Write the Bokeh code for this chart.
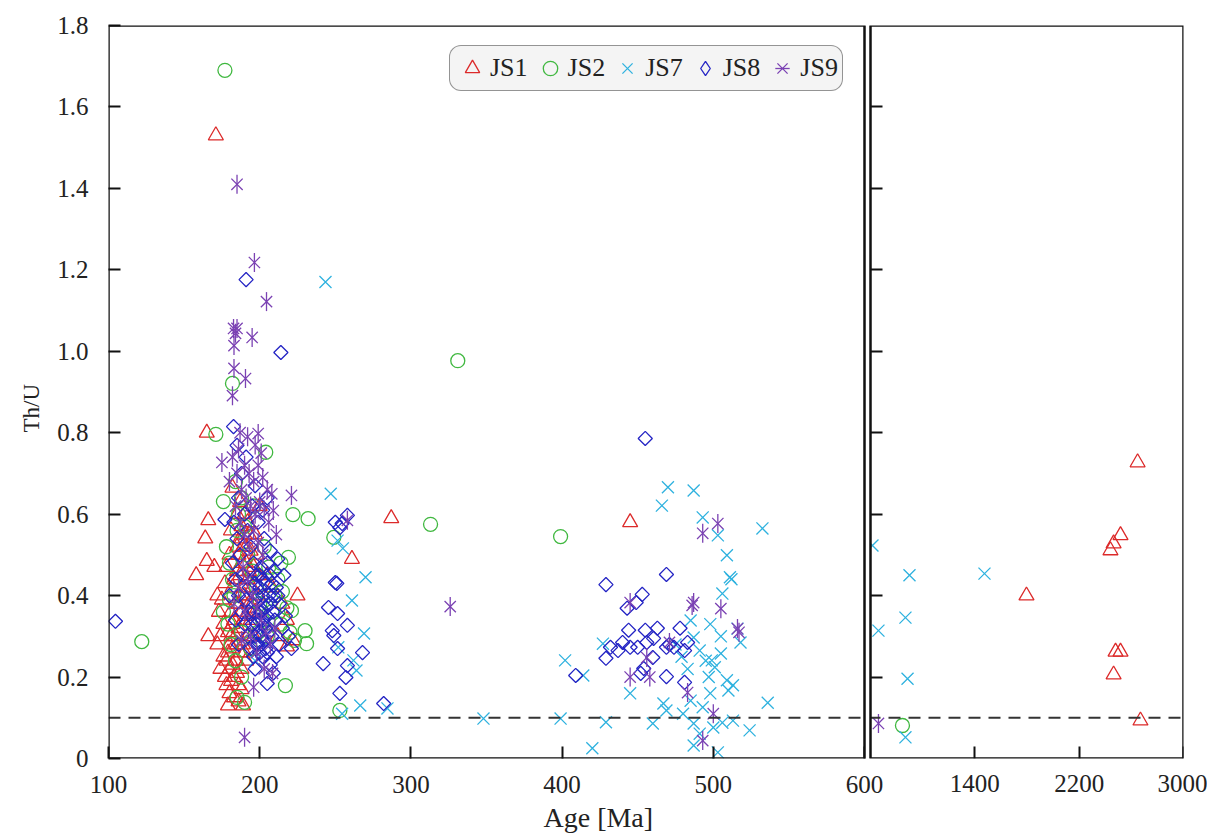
import math
from bokeh.plotting import figure
from bokeh.models import (Range1d, LinearAxis, FixedTicker, Span, BoxAnnotation, Title,
                          Legend, LegendItem, ColumnDataSource, PrintfTickFormatter)
from bokeh.embed import file_html
from bokeh.resources import INLINE

# ---------------- data (Age [Ma], Th/U) ----------------
JS1 = [(171, 1.53), (165, 0.80), (166, 0.585), (164, 0.54), (158, 0.45), (165, 0.485), (166, 0.30),
       (182, 0.665), (287, 0.59), (261, 0.49), (445, 0.58), (225, 0.40), (218, 0.275), (179, 0.13),
       (189, 0.13), (170, 0.47), (172, 0.40), (173, 0.36), (175, 0.39), (174, 0.30), (172, 0.28),
       (176, 0.25), (174, 0.22), (177, 0.20), (178, 0.18), (180, 0.22), (179, 0.26), (181, 0.30),
       (183, 0.34), (184, 0.38), (182, 0.42), (185, 0.46), (186, 0.50), (187, 0.54), (188, 0.57),
       (190, 0.60), (189, 0.52), (191, 0.48), (192, 0.44), (190, 0.40), (188, 0.36), (186, 0.32),
       (185, 0.28), (184, 0.24), (183, 0.20), (186, 0.18), (188, 0.22), (190, 0.26), (192, 0.30),
       (194, 0.34), (193, 0.38), (195, 0.42), (196, 0.47), (194, 0.51), (193, 0.55), (192, 0.58),
       (197, 0.55), (198, 0.50), (199, 0.45), (200, 0.62), (187, 0.63), (185, 0.60), (181, 0.56),
       (180, 0.50), (178, 0.47), (177, 0.43), (176, 0.33), (179, 0.31), (182, 0.27), (187, 0.45),
       (189, 0.42), (191, 0.35), (199, 0.40), (222, 0.29), (215, 0.38), (208, 0.42), (205, 0.45),
       (212, 0.30), (218, 0.34), (183, 0.15), (186, 0.14), (181, 0.19),
       (181, 0.36), (183, 0.44), (185, 0.52), (187, 0.40), (189, 0.34), (189, 0.28), (191, 0.24),
       (187, 0.26), (184, 0.30), (182, 0.33), (186, 0.38), (188, 0.48), (190, 0.55), (191, 0.52),
       (193, 0.46), (195, 0.38), (196, 0.30), (197, 0.36), (180, 0.28), (178, 0.24), (182, 0.23),
       (185, 0.21), (188, 0.17), (180, 0.16),
       (2517, 0.548), (2464, 0.528), (2440, 0.511), (1796, 0.40), (2479, 0.262), (2517, 0.262),
       (2464, 0.206), (2670, 0.093), (2648, 0.727)]

JS2 = [(177, 1.69), (331, 0.977), (122, 0.287), (313, 0.575), (399, 0.545), (171, 0.796), (204, 0.752),
       (222, 0.599), (232, 0.589), (219, 0.494), (221, 0.363), (230, 0.314), (231, 0.282), (217, 0.179),
       (249, 0.543), (253, 0.118), (182, 0.921), (176, 0.631), (185, 0.15), (190, 0.138),
       (178, 0.52), (180, 0.48), (182, 0.44), (176, 0.36), (179, 0.33), (183, 0.40), (185, 0.56),
       (186, 0.60), (188, 0.64), (184, 0.68), (190, 0.57), (192, 0.50), (195, 0.46), (198, 0.42),
       (200, 0.38), (202, 0.34), (205, 0.30), (208, 0.36), (210, 0.40), (212, 0.44), (214, 0.48),
       (203, 0.52), (196, 0.62), (181, 0.28), (184, 0.24), (188, 0.20), (194, 0.27), (199, 0.31),
       (215, 0.41), (218, 0.37), (220, 0.31), (223, 0.29), (214, 0.33), (206, 0.47), (188, 0.31),
       (180, 0.39), (845, 0.081)]

JS7 = [(243.5, 1.17), (247, 0.65), (251.5, 0.535), (255, 0.516), (270, 0.445), (261, 0.388), (269, 0.307),
       (252, 0.273), (262, 0.241), (264, 0.216), (266.5, 0.130), (254.5, 0.11), (284.5, 0.123), (197, 0.24),
       (348, 0.098), (399, 0.098), (429, 0.089), (402, 0.241), (414, 0.204), (427, 0.282), (420, 0.025),
       (445, 0.16), (470, 0.666), (487, 0.658), (466, 0.621), (493, 0.592), (503, 0.548), (532.5, 0.565),
       (509, 0.499), (511, 0.445), (512, 0.44), (506, 0.405), (516, 0.319), (518, 0.285), (485, 0.339),
       (487, 0.297), (491, 0.265), (499, 0.241), (501, 0.224), (505, 0.258), (509, 0.192), (510, 0.167),
       (536, 0.137), (467, 0.135), (469, 0.118), (460, 0.086), (480, 0.11), (487, 0.086), (491, 0.061),
       (500, 0.076), (506, 0.088), (513, 0.093), (524, 0.069), (487, 0.032), (503, 0.015), (485, 0.142),
       (493, 0.126), (497, 0.20), (495, 0.24), (479, 0.25), (483, 0.22), (475, 0.28), (498, 0.16),
       (513, 0.18), (505, 0.30), (498, 0.33),
       (615, 0.523), (899, 0.45), (1474, 0.454), (868, 0.346), (661, 0.314), (884, 0.196), (868, 0.052)]

JS8 = [(104.6, 0.337), (191, 1.176), (214, 0.997), (182.7, 0.815), (185, 0.769), (177, 0.587), (205, 0.184),
       (455, 0.786),
       (250, 0.58), (254.5, 0.577), (258, 0.597), (253, 0.567), (250, 0.432), (251, 0.43), (245.5, 0.371),
       (251.5, 0.356), (258, 0.327), (248, 0.314), (249, 0.302), (251.5, 0.27), (242, 0.233), (258, 0.228),
       (268, 0.26), (257, 0.199), (253, 0.16), (282, 0.135),
       (429, 0.427), (469, 0.452), (453, 0.403), (449, 0.383), (443, 0.369), (444, 0.315), (455, 0.315),
       (463, 0.32), (478, 0.32), (432, 0.273), (437, 0.265), (429, 0.246), (440, 0.285), (445, 0.273),
       (450, 0.273), (456, 0.285), (460, 0.248), (469, 0.273), (471, 0.28), (474, 0.273), (483, 0.285),
       (481, 0.265), (409, 0.204), (452, 0.209), (454, 0.221), (469, 0.201), (481, 0.187), (460.5, 0.295),
       (182, 0.48), (184, 0.44), (186, 0.40), (188, 0.36), (190, 0.33), (192, 0.30), (194, 0.27),
       (196, 0.25), (198, 0.28), (200, 0.31), (202, 0.34), (204, 0.37), (206, 0.40), (208, 0.43),
       (210, 0.46), (212, 0.49), (200, 0.42), (198, 0.45), (196, 0.48), (194, 0.52), (192, 0.56),
       (190, 0.60), (195, 0.62), (199, 0.58), (203, 0.54), (207, 0.51), (201, 0.47), (197, 0.39),
       (193, 0.42), (189, 0.45), (187, 0.50), (185, 0.54), (183, 0.58), (186, 0.64), (188, 0.70),
       (191, 0.74), (197, 0.67), (202, 0.61), (205, 0.64), (201, 0.36), (199, 0.34), (203, 0.29),
       (205, 0.26), (207, 0.23), (209, 0.21), (211, 0.25), (213, 0.28), (215, 0.32), (217, 0.35),
       (219, 0.30), (221, 0.27), (213, 0.38), (210, 0.34), (197, 0.22), (195, 0.33), (199, 0.40),
       (202, 0.44), (205, 0.48), (204, 0.32), (200, 0.26), (212, 0.40), (216, 0.45), (208, 0.30),
       (193, 0.36), (191, 0.39), (184, 0.34), (180, 0.40), (186, 0.28),
       (197, 0.30), (199, 0.28), (201, 0.30), (203, 0.33), (205, 0.35), (207, 0.38), (209, 0.36),
       (206, 0.31), (204, 0.27), (202, 0.25), (200, 0.36), (198, 0.33), (196, 0.36), (202, 0.40),
       (204, 0.43), (207, 0.45), (209, 0.40), (211, 0.42), (200, 0.45), (197, 0.43)]

JS9 = [(185, 1.41), (196.5, 1.218), (204.5, 1.122), (182.7, 1.056), (185, 1.056), (184, 1.044), (195, 1.034),
       (183, 1.014), (183, 0.958), (190.6, 0.933), (182, 0.891), (199, 0.798), (187, 0.80), (175, 0.727),
       (221, 0.646), (209, 0.609), (258, 0.585), (326, 0.373), (190, 0.052), (196, 0.175), (208.5, 0.209),
       (493, 0.553), (503, 0.577), (487, 0.383), (486, 0.376), (505, 0.368), (516, 0.319), (517, 0.31),
       (445, 0.383), (456, 0.248), (445, 0.20), (458, 0.20), (471, 0.285), (483, 0.162), (500, 0.11),
       (493, 0.044),
       (186, 0.76), (190, 0.72), (193, 0.70), (196, 0.68), (199, 0.72), (202, 0.69), (205, 0.66),
       (188, 0.66), (191, 0.64), (194, 0.62), (197, 0.60), (200, 0.63), (203, 0.61), (206, 0.58),
       (184, 0.62), (187, 0.58), (190, 0.55), (193, 0.52), (196, 0.56), (199, 0.53), (202, 0.50),
       (189, 0.47), (192, 0.44), (195, 0.40), (198, 0.37), (201, 0.34), (204, 0.31), (207, 0.28),
       (210, 0.32), (185, 0.70), (182, 0.74), (201, 0.75), (197, 0.77), (192, 0.79), (180, 0.68),
       (211, 0.55), (208, 0.65), (186, 0.42), (183, 0.38), (190, 0.36), (194, 0.30), (198, 0.26),
       (203, 0.22), (188, 0.29),
       (661, 0.086)]

SERIES = ["JS1", "JS2", "JS7", "JS8", "JS9"]
X_TICKS_LEFT = [100, 200, 300, 400, 500, 600]
X_TICKS_RIGHT = [1400, 2200, 3000]
Y_TICKS = [0, 0.2, 0.4, 0.6, 0.8, 1.0, 1.2, 1.4, 1.6, 1.8]
BREAK = 600
THRESHOLD = 0.1

# ---------------- layout ----------------
W, H = 1207, 839
FL, FR, FT, FB = 108, 1183, 25, 758      # frame edges (px)
GAP_L, GAP_R = 864, 870                   # break gap (px)
fw = FR - FL
xl_end = 100 + (BREAK - 100) * fw / (GAP_L - FL)
xr_start = 3000 - (3000 - BREAK) * fw / (FR - GAP_R)
gap_units = (GAP_R - GAP_L) * (BREAK - 100) / (GAP_L - FL)

FONT = "Liberation Serif"
TICK_FS = "25px"
TXT = "#222222"

p = figure(width=W, height=H, x_range=Range1d(100, xl_end), y_range=Range1d(0, 1.8),
           output_backend="svg", toolbar_location=None, x_axis_type=None, y_axis_type=None,
           min_border_left=FL, min_border_right=W - FR, min_border_top=FT, min_border_bottom=H - FB)
p.extra_x_ranges = {"right": Range1d(xr_start, 3000)}
p.outline_line_color = None
p.background_fill_color = "white"
p.border_fill_color = "white"


def style_axis(ax, ticks, show_labels=True, show_ticks=True):
    ax.ticker = FixedTicker(ticks=ticks)
    ax.major_tick_in = 12
    ax.major_tick_out = 0
    ax.minor_tick_line_color = None
    ax.major_tick_line_color = "#111111" if show_ticks else None
    ax.major_tick_line_width = 2
    ax.axis_line_color = None
    ax.major_label_text_font = FONT
    ax.major_label_text_font_size = TICK_FS
    ax.major_label_text_color = TXT if show_labels else None


# bottom axis for the left panel (nearest to the frame)
xb = LinearAxis()
style_axis(xb, X_TICKS_LEFT)
xb.major_label_standoff = 17
p.add_layout(xb, "below")

# labels of the right panel (outer axis, pulled up onto the same line)
xr = LinearAxis(x_range_name="right")
style_axis(xr, X_TICKS_RIGHT, show_ticks=False)
xr.major_label_standoff = -21
p.add_layout(xr, "below")

# inward tick marks of the right panel
xr_t = LinearAxis(x_range_name="right", fixed_location=0)
style_axis(xr_t, X_TICKS_RIGHT, show_labels=False)
p.add_layout(xr_t, "below")

yl = LinearAxis()
style_axis(yl, Y_TICKS)
yl.formatter = PrintfTickFormatter(format="%.1f")
yl.major_label_overrides = {0: "0"}
yl.major_label_standoff = 20
p.add_layout(yl, "left")

yr = LinearAxis(x_range_name="right", fixed_location=BREAK)
style_axis(yr, Y_TICKS[1:-1], show_labels=False)
p.add_layout(yr, "left")

# axis titles
p.add_layout(Title(text="Age [Ma]", align="left", offset=435, standoff=8, text_font=FONT,
                   text_font_size="28px", text_font_style="normal", text_color=TXT), "below")
p.add_layout(Title(text="Th/U", align="left", offset=326, standoff=21, text_font=FONT,
                   text_font_size="23px", text_font_style="normal", text_color=TXT), "left")

# ---------------- glyphs ----------------
STYLE = {
    "JS1": dict(marker="triangle", size=15, color="#dc2a2a"),
    "JS2": dict(marker="circle", size=14, color="#40b840"),
    "JS7": dict(marker="x", size=17, color="#2fb2df"),
    "JS8": dict(marker="square", size=10, color="#2424c4", angle=math.pi / 4),
    "JS9": dict(marker="x", size=16, color="#7b42b3"),
}
DATA = {"JS1": JS1, "JS2": JS2, "JS7": JS7, "JS8": JS8, "JS9": JS9}

legend_items = []
for name in SERIES:
    pts = DATA[name]
    st = STYLE[name]
    left = [(a, t) for a, t in pts if a <= BREAK]
    right = [(a, t) for a, t in pts if a > BREAK]
    src_l = ColumnDataSource(dict(age=[a for a, _ in left], thu=[t for _, t in left]))
    src_r = ColumnDataSource(dict(age=[a for a, _ in right], thu=[t for _, t in right]))
    rends = []
    for src, rng in ((src_l, "default"), (src_r, "right")):
        kw = dict(marker=st["marker"], size=st["size"], fill_color=None,
                  line_color=st["color"], line_width=1.3, source=src, x_range_name=rng)
        if "angle" in st:
            kw["angle"] = st["angle"]
        r = p.scatter("age", "thu", **kw)
        if rng == "default":
            rends.append(r)
        if name == "JS9":
            r2 = p.scatter("age", "thu", marker="dash", size=19, angle=math.pi / 2,
                           line_color=st["color"], line_width=1.3, source=src, x_range_name=rng)
            if rng == "default":
                rends.append(r2)
    if name == "JS8":
        # legend swatch: the legend draws markers unrotated, so use a (zero-size) diamond there
        rends = [p.scatter("age", "thu", source=src_l, marker="diamond", size=0, fill_color=None,
                           line_color=st["color"], line_width=1.3)]
    legend_items.append(LegendItem(label=name, renderers=rends))

# threshold line
p.add_layout(Span(location=THRESHOLD, dimension="width", line_color="#333333",
                  line_width=2, line_dash="12 8"))

# axis break gap and panel frames
p.add_layout(BoxAnnotation(left=BREAK, right=BREAK + gap_units, fill_color="white", fill_alpha=1,
                           line_color=None))
p.add_layout(BoxAnnotation(left=100, right=BREAK, bottom=0, top=1.8, fill_alpha=0,
                           line_color="#111111", line_alpha=1, line_width=2.5))
p.add_layout(BoxAnnotation(x_range_name="right", left=BREAK, right=3000, bottom=0, top=1.8,
                           fill_alpha=0, line_color="#111111", line_alpha=1, line_width=2.5))

legend = Legend(items=legend_items, orientation="horizontal", location=(341, 667))
legend.label_text_font = FONT
legend.label_text_font_size = "26px"
legend.label_text_color = TXT
legend.glyph_width = 36
legend.glyph_height = 36
legend.label_standoff = 0
legend.spacing = 4
legend.padding = 4
legend.margin = 0
legend.border_line_color = "#333333"
legend.border_line_width = 1.5
legend.background_fill_color = "#f4f4f4"
legend.background_fill_alpha = 1
legend.border_radius = 12
p.add_layout(legend)

open("out.html", "w").write(file_html(p, INLINE))
